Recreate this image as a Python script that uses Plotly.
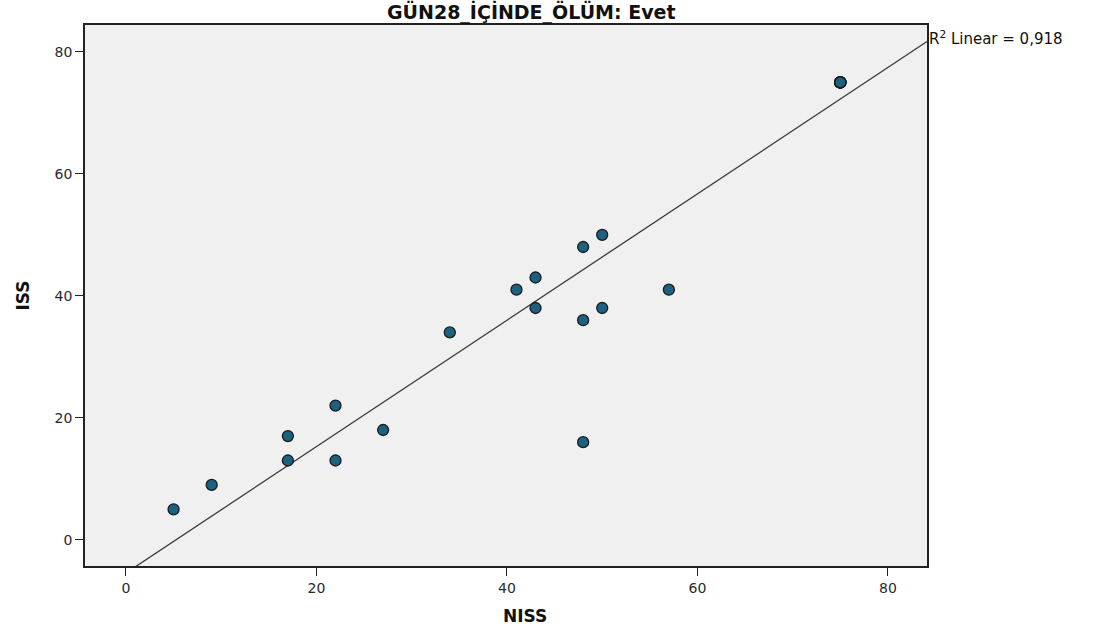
import numpy as np
import plotly.graph_objects as go

# Data (NISS, ISS); (75,75) is heavily overplotted
niss = [5, 9, 17, 17, 22, 22, 27, 34, 41, 43, 43, 48, 50, 48, 50, 57, 48] + [75] * 10
iss = [5, 9, 17, 13, 22, 13, 18, 34, 41, 43, 38, 48, 50, 36, 38, 41, 16] + [75] * 10

title_text = "GÜN28_İÇİNDE_ÖLÜM: Evet"
r2_text = "R<sup>2</sup> Linear = 0,918"
x_title = "NISS"
y_title = "ISS"
x_ticks = [0, 20, 40, 60, 80]
y_ticks = [0, 20, 40, 60, 80]
x_range = [-4.3, 84.1]
y_range = [-4.3, 84.4]

slope, intercept = np.polyfit(niss, iss, 1)
fit_x = np.array(x_range)
fit_y = slope * fit_x + intercept

FONT = "DejaVu Sans, Liberation Sans, Arial"

fig = go.Figure()
fig.add_trace(go.Scatter(
    x=fit_x, y=fit_y, mode="lines",
    line=dict(color="#3a3a3a", width=1.3), hoverinfo="skip", showlegend=False,
))
fig.add_trace(go.Scatter(
    x=niss, y=iss, mode="markers",
    marker=dict(size=11, color="#1b6182", line=dict(color="#1a1a1a", width=1.3)),
    showlegend=False,
))

axis_common = dict(
    showgrid=False, zeroline=False, showline=True, linecolor="#222222", linewidth=1.5,
    ticks="outside", ticklen=8, tickwidth=1.3, tickcolor="#222222",
    tickfont=dict(family=FONT, size=14, color="#2a2a2a"),
    mirror=True,
)
fig.update_xaxes(range=x_range, tickvals=x_ticks, ticktext=[str(v) for v in x_ticks], **axis_common)
fig.update_yaxes(range=y_range, tickvals=y_ticks, ticktext=[str(v) for v in y_ticks], **axis_common)

# Title and axis titles placed as annotations (offset as in the reference)
fig.add_annotation(text="<b>" + title_text + "</b>", xref="paper", yref="paper",
                   x=(531 - 85) / 842, y=1.0, yshift=27, xanchor="center", yanchor="top",
                   showarrow=False, font=dict(family=FONT, size=19, color="#111"))
fig.add_annotation(text="<b>" + x_title + "</b>", xref="paper", yref="paper",
                   x=(525 - 85) / 842, y=0, yshift=-38, xanchor="center", yanchor="top",
                   showarrow=False, font=dict(family=FONT, size=17, color="#111"))
fig.add_annotation(text="<b>" + y_title + "</b>", xref="paper", yref="paper",
                   x=0, xshift=-63, y=0.5, xanchor="center", yanchor="middle", textangle=-90,
                   showarrow=False, font=dict(family=FONT, size=17, color="#111"))

fig.add_annotation(text=r2_text, xref="paper", yref="paper", x=1.0, y=0.976,
                   xanchor="left", yanchor="middle", showarrow=False,
                   font=dict(family=FONT, size=15, color="#111"))

fig.update_layout(
    width=1095, height=636,
    margin=dict(l=85, r=168, t=25, b=70),
    plot_bgcolor="#f0f0f0", paper_bgcolor="white",
)

fig.write_html("out.html")
